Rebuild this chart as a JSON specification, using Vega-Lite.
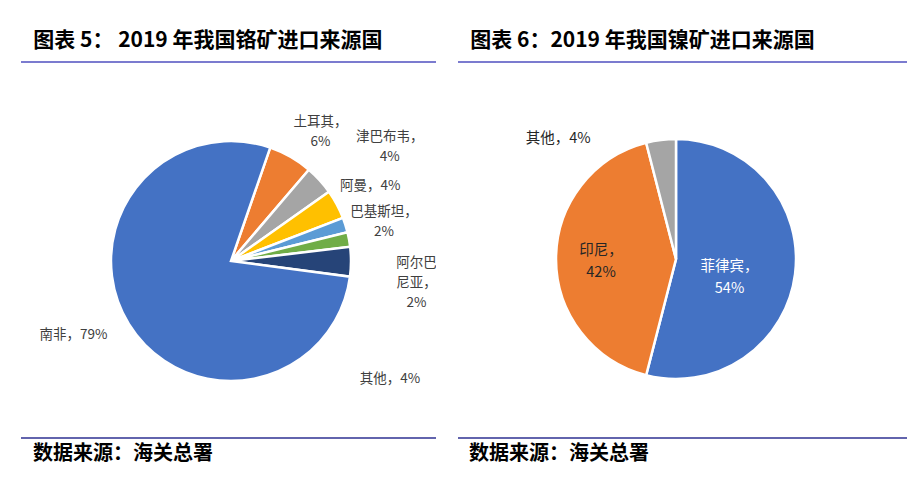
{
  "$schema": "https://vega.github.io/schema/vega-lite/v6.json",
  "padding": {"left": 20, "top": 30, "right": 0, "bottom": 5},
  "spacing": 22,
  "bounds": "flush",
  "resolve": {"scale": {"color": "independent", "theta": "independent"}},
  "config": {"view": {"stroke": null}, "font": "Noto Sans CJK SC"},
  "hconcat": [
    {
      "width": 415,
      "height": 376,
      "title": {"text": "图表 5：  2019 年我国铬矿进口来源国", "anchor": "start", "dx": 13, "offset": 10, "fontSize": 21, "fontWeight": "bold", "color": "#000000", "font": "Noto Sans CJK SC"},
      "layer": [
        {
          "data": {"values": [
            {"name": "土耳其", "value": 6, "idx": 1, "label": "土耳其，\n6%"},
            {"name": "津巴布韦", "value": 4, "idx": 2, "label": "津巴布韦，\n4%"},
            {"name": "阿曼", "value": 4, "idx": 3, "label": "阿曼，4%"},
            {"name": "巴基斯坦", "value": 2, "idx": 4, "label": "巴基斯坦，\n2%"},
            {"name": "阿尔巴尼亚", "value": 2, "idx": 5, "label": "阿尔巴\n尼亚，\n2%"},
            {"name": "其他", "value": 4, "idx": 6, "label": "其他，4%"},
            {"name": "南非", "value": 79, "idx": 7, "label": "南非，79%"}
          ]},
          "layer": [
            {
              "mark": {"type": "arc", "radius": 120, "stroke": "#ffffff", "strokeWidth": 2.5, "xOffset": 2.5, "yOffset": 11},
              "encoding": {
                "theta": {"field": "value", "type": "quantitative", "stack": true, "scale": {"range": [0.333, 6.616]}},
                "order": {"field": "idx", "type": "quantitative"},
                "color": {"field": "name", "type": "nominal", "legend": null,
                  "scale": {"domain": ["土耳其", "津巴布韦", "阿曼", "巴基斯坦", "阿尔巴尼亚", "其他", "南非"],
                            "range": ["#ED7D31", "#A5A5A5", "#FFC000", "#5B9BD5", "#70AD47", "#264478", "#4472C4"]}}
              }
            },
            {
              "mark": {"type": "text", "radius": 150, "align": "center", "baseline": "middle", "lineBreak": "\n", "lineHeight": 20, "fontSize": 13.5, "color": "#404040", "clip": true,
                "xOffset": 2.5, "yOffset": 11,
                "dx": {"expr": "datum.name==='土耳其' ? 15 : datum.name==='津巴布韦' ? 48 : datum.name==='阿曼' ? 7 : datum.name==='巴基斯坦' ? 10 : datum.name==='阿尔巴尼亚' ? 38 : datum.name==='其他' ? 9 : -30"},
                "dy": {"expr": "datum.name==='土耳其' ? -9 : datum.name==='津巴布韦' ? -23 : datum.name==='阿曼' ? -4 : datum.name==='巴基斯坦' ? -4 : datum.name==='阿尔巴尼亚' ? 29 : datum.name==='其他' ? 117 : -5"}},
              "encoding": {
                "theta": {"field": "value", "type": "quantitative", "stack": true},
                "order": {"field": "idx", "type": "quantitative"},
                "text": {"field": "label", "type": "nominal"}
              }
            }
          ]
        },
        {
          "data": {"values": [{"src": "数据来源：海关总署"}]},
          "layer": [
            {"mark": {"type": "rule", "color": "#4F4FBF", "strokeWidth": 1.5}, "encoding": {"y": {"value": 0}}},
            {"mark": {"type": "rule", "color": "#2E3192", "strokeWidth": 1.5}, "encoding": {"y": {"value": "height"}}},
            {"mark": {"type": "text", "align": "left", "baseline": "middle", "fontSize": 20, "fontWeight": "bold", "color": "#000000", "dy": 16},
             "encoding": {"text": {"field": "src", "type": "nominal"}, "x": {"value": 12}, "y": {"value": "height"}}}
          ]
        }
      ]
    },
    {
      "width": 450,
      "height": 376,
      "title": {"text": "图表 6：2019 年我国镍矿进口来源国", "anchor": "start", "dx": 13, "offset": 10, "fontSize": 21, "fontWeight": "bold", "color": "#000000", "font": "Noto Sans CJK SC"},
      "layer": [
        {
          "data": {"values": [
            {"name": "菲律宾", "value": 54, "idx": 1, "label": "菲律宾，\n54%"},
            {"name": "印尼", "value": 42, "idx": 2, "label": "印尼，\n42%"},
            {"name": "其他", "value": 4, "idx": 3, "label": "其他，4%"}
          ]},
          "layer": [
            {
              "mark": {"type": "arc", "radius": 120, "stroke": "#ffffff", "strokeWidth": 2.5, "xOffset": -7, "yOffset": 9},
              "encoding": {
                "theta": {"field": "value", "type": "quantitative", "stack": true, "scale": {"range": [0, 6.2832]}},
                "order": {"field": "idx", "type": "quantitative"},
                "color": {"field": "name", "type": "nominal", "legend": null,
                  "scale": {"domain": ["菲律宾", "印尼", "其他"], "range": ["#4472C4", "#ED7D31", "#A5A5A5"]}}
              }
            },
            {
              "mark": {"type": "text", "align": "center", "baseline": "middle", "lineBreak": "\n", "lineHeight": 22, "fontSize": 14.5,
                "xOffset": -7, "yOffset": 9,
                "radius": {"expr": "datum.name==='其他' ? 150 : datum.name==='印尼' ? 75 : 60"},
                "dx": {"expr": "datum.name==='其他' ? -99 : datum.name==='印尼' ? 0 : -6"},
                "dy": {"expr": "datum.name==='其他' ? 29 : datum.name==='印尼' ? -8 : 0"}},
              "encoding": {
                "theta": {"field": "value", "type": "quantitative", "stack": true},
                "order": {"field": "idx", "type": "quantitative"},
                "text": {"field": "label", "type": "nominal"},
                "color": {"condition": {"test": "datum.name==='菲律宾'", "value": "#ffffff"}, "value": "#262626"}
              }
            }
          ]
        },
        {
          "data": {"values": [{"src": "数据来源：海关总署"}]},
          "layer": [
            {"mark": {"type": "rule", "color": "#4F4FBF", "strokeWidth": 1.5}, "encoding": {"y": {"value": 0}}},
            {"mark": {"type": "rule", "color": "#2E3192", "strokeWidth": 1.5}, "encoding": {"y": {"value": "height"}}},
            {"mark": {"type": "text", "align": "left", "baseline": "middle", "fontSize": 20, "fontWeight": "bold", "color": "#000000", "dy": 16},
             "encoding": {"text": {"field": "src", "type": "nominal"}, "x": {"value": 11}, "y": {"value": "height"}}}
          ]
        }
      ]
    }
  ]
}
